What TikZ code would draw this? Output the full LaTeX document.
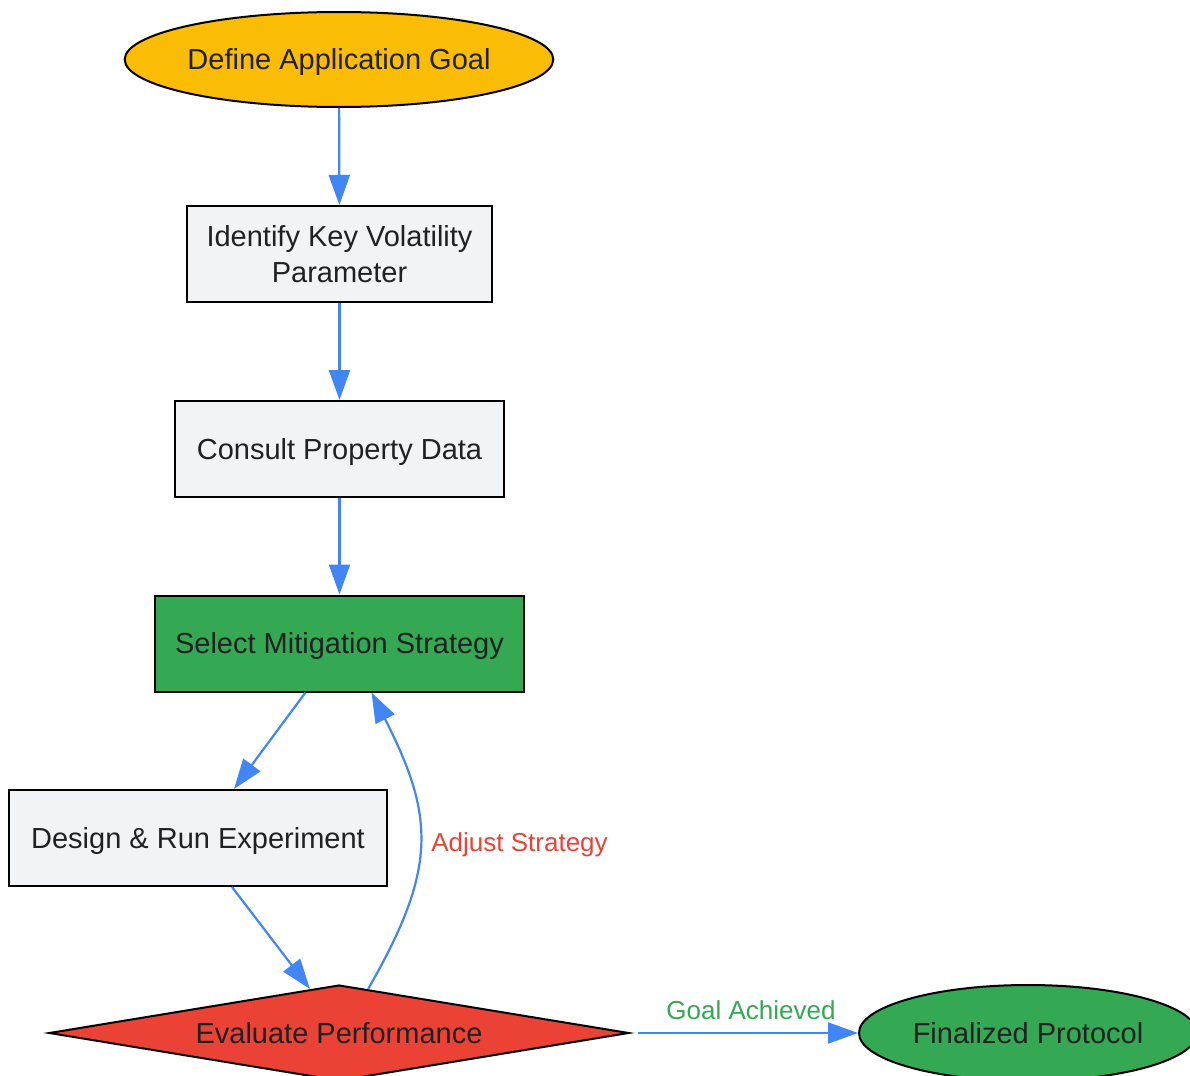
\documentclass[tikz,border=0pt]{standalone}
\usepackage{fontspec}
\setmainfont{Liberation Sans}
\usetikzlibrary{shapes.geometric,arrows.meta,calc}
\definecolor{gblue}{HTML}{4285F4}
\definecolor{gyellow}{HTML}{FBBC05}
\definecolor{ggreen}{HTML}{34A853}
\definecolor{gred}{HTML}{EA4335}
\definecolor{ggray}{HTML}{F1F3F4}
\definecolor{txt}{HTML}{202124}
\begin{document}
\begin{tikzpicture}[x=0.5pt,y=-0.5pt,
  every node/.style={font=\fontsize{14.5}{18}\selectfont, text=txt},
  one/.style={text height=10.4pt, text depth=0pt},
  box/.style={draw=black, line width=1pt, fill=ggray, rectangle, minimum height=48pt, inner sep=0pt, align=center},
  ell/.style={ellipse, draw=black, line width=1pt, inner sep=0pt, one},
  arr/.style={draw=gblue, line width=1.1pt, -{Triangle[length=15pt,width=10.5pt]}},
  lbl/.style={font=\fontsize{13}{16}\selectfont, text height=9.3pt, text depth=0pt}
]
\useasboundingbox (0,0) rectangle (1190,1076);
\clip (0,0) rectangle (1190,1076);

\node[ell, fill=gyellow, minimum width=213pt, minimum height=47.5pt] (goal) at (339,59.5) {Define Application Goal};
\node[box, minimum width=152.5pt] (ident) at (339.5,254) {Identify Key Volatility\\Parameter};
\node[box, one, minimum width=164.5pt] (consult) at (339.5,449) {Consult Property Data};
\node[box, one, fill=ggreen, minimum width=184.5pt] (select) at (339.5,643.5) {Select Mitigation Strategy};
\node[box, one, minimum width=189pt] (design) at (198,838) {Design \& Run Experiment};
\node[diamond, one, aspect=6.04, draw=black, line width=1pt, fill=gred, minimum width=290pt, minimum height=48pt, inner sep=0pt] (eval) at (339,1033) {Evaluate Performance};
\node[ell, fill=ggreen, minimum width=169pt, minimum height=48pt] (final) at (1028,1033) {Finalized Protocol};

\draw[arr] (goal) -- (ident);
\draw[arr] (ident) -- (consult);
\draw[arr] (consult) -- (select);
\draw[arr] ([xshift=-17pt]select.south) -- ([xshift=18pt]design.north);
\draw[arr] ([xshift=17pt]design.south) -- ($(eval.north)!0.1!(eval.west)$);
\draw[arr] ($(eval.north)!0.1!(eval.east)$) to[out=60,in=-63,looseness=1.2]
  node[pos=0.5, anchor=west, xshift=2pt, lbl, text=gred] {Adjust Strategy} ([xshift=16pt]select.south);
\draw[arr] ([xshift=4pt]eval.east) -- node[midway, yshift=11.5pt, xshift=1.5pt, lbl, text=ggreen] {Goal Achieved} (final);
\end{tikzpicture}
\end{document}
